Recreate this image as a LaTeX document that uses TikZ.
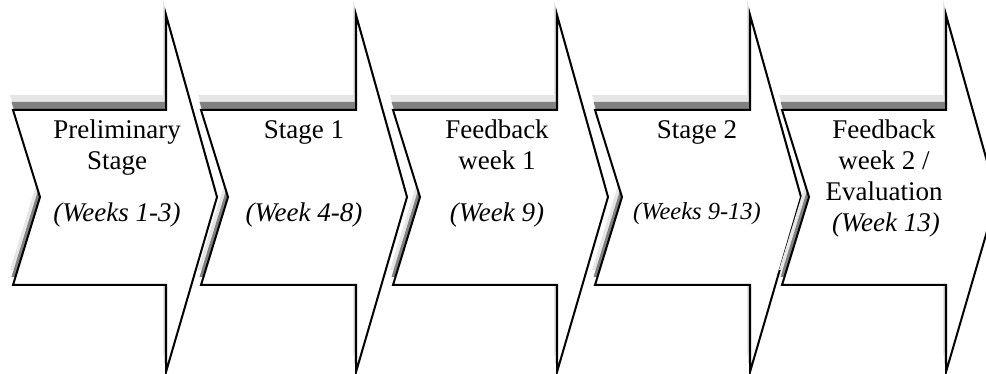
\documentclass[tikz,border=0pt]{standalone}
\usepackage{fontspec}
\setmainfont{Liberation Serif}
\definecolor{shadeL}{HTML}{E6E6E6}
\definecolor{shadeD}{HTML}{808080}
\begin{document}
\begin{tikzpicture}[x=1pt,y=-1pt,
  outline/.style={draw=black, line width=2pt, fill=white, line join=miter},
  lbl/.style={anchor=base, inner sep=0pt, font=\fontsize{27}{31}\selectfont},
  wk/.style={anchor=base, inner sep=0pt, font=\fontsize{27}{31}\selectfont\itshape},
  wks/.style={anchor=base, inner sep=0pt, font=\fontsize{24.5}{29}\selectfont\itshape}]
\useasboundingbox (0,0) rectangle (986,374);
\clip (0,0) rectangle (986,374);
\foreach \L/\S in {13/166,201/356,393/557,595/750,782/946}{
  \pgfmathsetmacro\T{\S+51}
  \pgfmathsetmacro\N{\L+27}
  \fill[shadeL, xshift=-3pt, yshift=15pt] (\L,110) -- (\S,110) -- (\S,15) -- (\T,197) -- (\S,372) -- (\S,285) -- (\L,285) -- (\N,197) -- cycle;
  \fill[shadeD, xshift=-1.5pt, yshift=8pt] (\L,110) -- (\S,110) -- (\S,15) -- (\T,197) -- (\S,372) -- (\S,285) -- (\L,285) -- (\N,197) -- cycle;
  \draw[outline] (\L,110) -- (\S,110) -- (\S,15) -- (\T,197) -- (\S,372) -- (\S,285) -- (\L,285) -- (\N,197) -- cycle;
}
% Arrow 1
\node[lbl] (a1) at (117,139) {Preliminary};
\node[lbl] (a2) at (117,170) {Stage};
\node[wk]  (a3) at (117,222) {(Weeks 1-3)};
% Arrow 2
\node[lbl] (b1) at (304,139) {Stage 1};
\node[wk]  (b3) at (304,222) {(Week 4-8)};
% Arrow 3
\node[lbl] (c1) at (497,139) {Feedback};
\node[lbl] (c2) at (497,170) {week 1};
\node[wk]  (c3) at (497,222) {(Week 9)};
% Arrow 4
\node[lbl] (d1) at (697,139) {Stage 2};
\node[wks] (d3) at (697,220) {(Weeks 9-13)};
% Arrow 5
\node[lbl] (e1) at (884,139) {Feedback};
\node[lbl] (e2) at (884,170) {week 2 /};
\node[lbl] (e3) at (884,201) {Evaluation};
\node[wk]  (e4) at (886,232) {(Week 13)};
\end{tikzpicture}
\end{document}
